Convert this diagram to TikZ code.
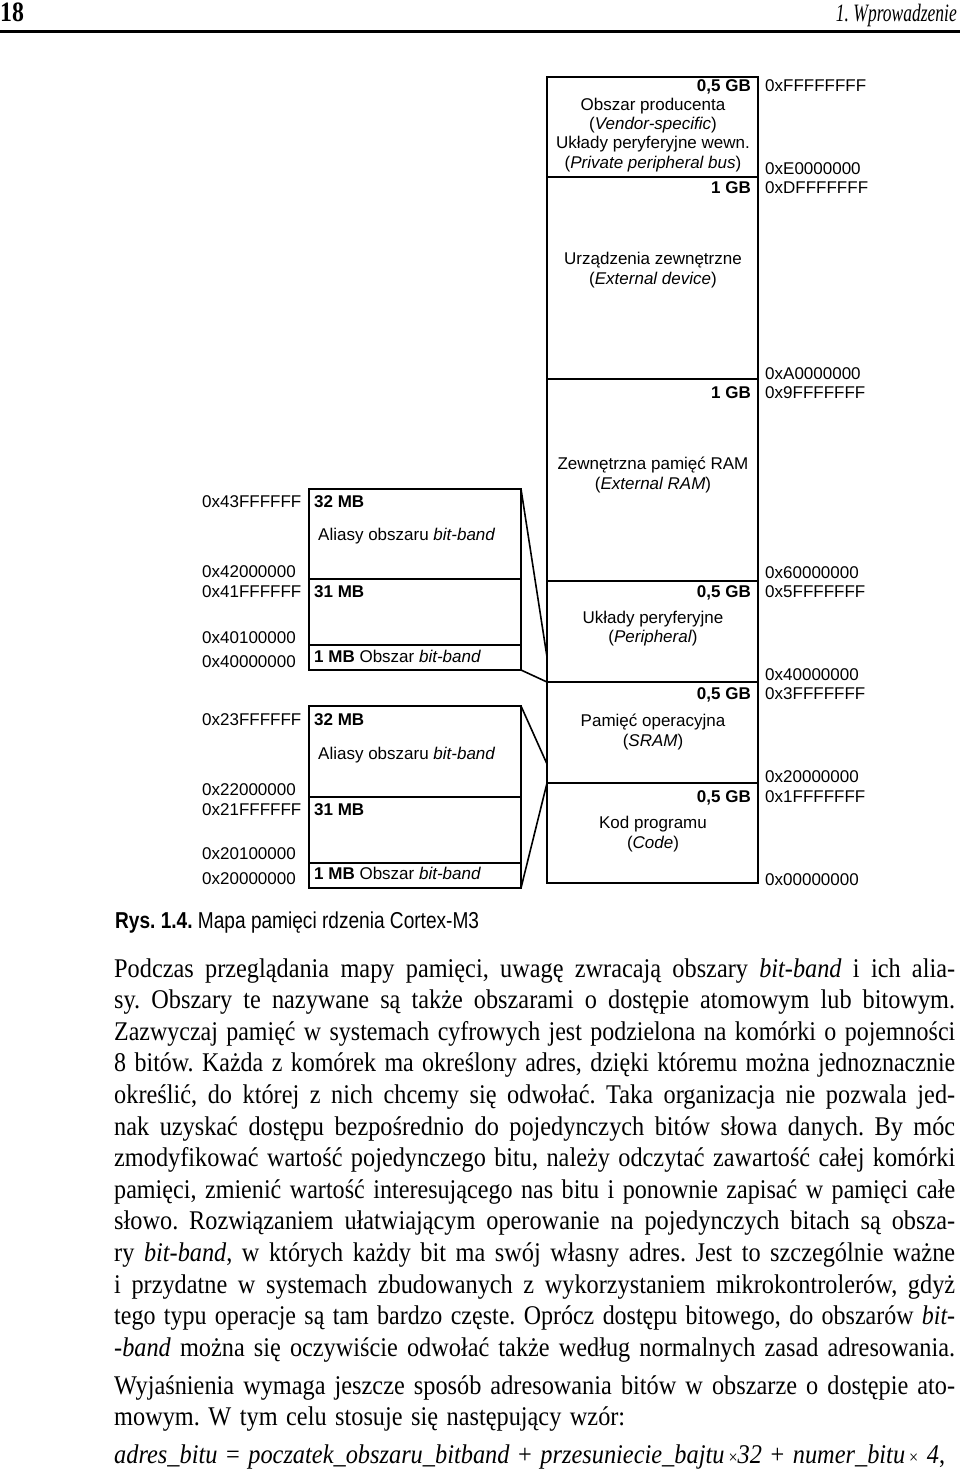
\documentclass[tikz,border=0pt]{standalone}
\usepackage{graphicx}
\usepackage{fontspec}
\setmainfont{Liberation Serif}
\newfontfamily\diafont{Liberation Sans}
\newfontfamily\bodyfont{Liberation Serif}
\newsavebox\linebox
\newcommand\jl[1]{\sbox\linebox{#1}\ifdim\wd\linebox>938pt\relax\resizebox{841pt}{\height}{\usebox\linebox}\else\scalebox{0.9}[1]{\makebox[934.4pt][s]{#1}}\fi}
\newcommand\nl[1]{\scalebox{0.9}[1]{#1}}
\newcommand\bodysetup{\bodyfont\fontsize{27}{30}\selectfont\frenchspacing\spaceskip=0.35em plus 0.6em minus 0.07em\relax}
\frenchspacing
\begin{document}
\begin{tikzpicture}[x=1pt,y=-1pt,
  box/.style={draw,line width=1.6pt},
  lbl/.style={inner sep=0pt,font=\diafont\fontsize{17}{19}\selectfont},
  addr/.style={lbl,anchor=base west},
  size/.style={lbl,anchor=base east,font=\diafont\fontsize{17}{19}\selectfont\bfseries},
  ctr/.style={lbl,anchor=base},
  body/.style={inner sep=0pt,anchor=base west,font=\bodysetup},
  conn/.style={line width=1.6pt,line join=round}]
\useasboundingbox (0,0) rectangle (960,1469);
% header
\node[inner sep=0pt,anchor=base west,font=\fontsize{28}{30}\selectfont\bfseries] (pg) at (0,22) {\scalebox{0.85}[1]{18}};
\node[inner sep=0pt,anchor=base east,font=\fontsize{25}{30}\selectfont\itshape] (ch) at (957,22) {\scalebox{0.7}[1]{1. Wprowadzenie}};
\fill (0,30) rectangle (960,33);
% main column
\draw[box] (547,77) rectangle (758,883);
\draw[box] (547,177) -- (758,177);
\draw[box] (547,379) -- (758,379);
\draw[box] (547,581) -- (758,581);
\draw[box] (547,682) -- (758,682);
\draw[box] (547,783) -- (758,783);
\coordinate (p40) at (547,682);
\coordinate (p40a) at (547,657);
\coordinate (p20) at (547,783);
\coordinate (p20a) at (547,764);
% right labels
\node[size] (s1) at (751,92) {0,5 GB};
\node[size] (s2) at (751,193) {1 GB};
\node[size] (s3) at (751,398) {1 GB};
\node[size] (s4) at (751,597) {0,5 GB};
\node[size] (s5) at (751,699) {0,5 GB};
\node[size] (s6) at (751,802) {0,5 GB};
\node[addr] (a1) at (765,92) {0xFFFFFFFF};
\node[addr] (a2) at (765,174) {0xE0000000};
\node[addr] (a3) at (765,193) {0xDFFFFFFF};
\node[addr] (a4) at (765,379) {0xA0000000};
\node[addr] (a5) at (765,398) {0x9FFFFFFF};
\node[addr] (a6) at (765,578) {0x60000000};
\node[addr] (a7) at (765,597) {0x5FFFFFFF};
\node[addr] (a8) at (765,680) {0x40000000};
\node[addr] (a9) at (765,699) {0x3FFFFFFF};
\node[addr] (a10) at (765,782) {0x20000000};
\node[addr] (a11) at (765,802) {0x1FFFFFFF};
\node[addr] (a12) at (765,885) {0x00000000};
% centered texts
\node[ctr] (t1) at (653,111) {Obszar producenta};
\node[ctr] (t2) at (653,130) {(\textit{Vendor-specific})};
\node[ctr] (t3) at (653,149) {Układy peryferyjne wewn.};
\node[ctr] (t4) at (653,168) {(\textit{Private peripheral bus})};
\node[ctr] (t5) at (653,264) {Urządzenia zewnętrzne};
\node[ctr] (t6) at (653,284) {(\textit{External device})};
\node[ctr] (t7) at (653,469) {Zewnętrzna pamięć RAM};
\node[ctr] (t8) at (653,489) {(\textit{External RAM})};
\node[ctr] (t9) at (653,623) {Układy peryferyjne};
\node[ctr] (t10) at (653,642) {(\textit{Peripheral})};
\node[ctr] (t11) at (653,726) {Pamięć operacyjna};
\node[ctr] (t12) at (653,746) {(\textit{SRAM})};
\node[ctr] (t13) at (653,828) {Kod programu};
\node[ctr] (t14) at (653,848) {(\textit{Code})};
% upper left box
\draw[box] (309,489) rectangle (521,670);
\draw[box] (309,579) -- (521,579);
\draw[box] (309,645) -- (521,645);
\coordinate (u1) at (521,489);
\coordinate (u2) at (521,670);
% lower left box
\draw[box] (309,706) rectangle (521,888);
\draw[box] (309,797) -- (521,797);
\draw[box] (309,863) -- (521,863);
\coordinate (d1) at (521,706);
\coordinate (d2) at (521,888);
% connectors
\draw[conn] (u1) -- (p40a);
\draw[conn] (u2) -- (p40);
\draw[conn] (d1) -- (p20a);
\draw[conn] (d2) -- (p20);
% left labels
\node[addr] (b1) at (202,507) {0x43FFFFFF};
\node[addr] (b2) at (202,577) {0x42000000};
\node[addr] (b3) at (202,597) {0x41FFFFFF};
\node[addr] (b4) at (202,643) {0x40100000};
\node[addr] (b5) at (202,667) {0x40000000};
\node[addr] (b6) at (202,725) {0x23FFFFFF};
\node[addr] (b7) at (202,795) {0x22000000};
\node[addr] (b8) at (202,815) {0x21FFFFFF};
\node[addr] (b9) at (202,859) {0x20100000};
\node[addr] (b10) at (202,884) {0x20000000};
\node[addr] (c1) at (314,507) {\textbf{32 MB}};
\node[addr] (c2) at (318,540) {Aliasy obszaru \textit{bit-band}};
\node[addr] (c3) at (314,597) {\textbf{31 MB}};
\node[addr] (c4) at (314,662) {\textbf{1 MB} Obszar \textit{bit-band}};
\node[addr] (c5) at (314,725) {\textbf{32 MB}};
\node[addr] (c6) at (318,759) {Aliasy obszaru \textit{bit-band}};
\node[addr] (c7) at (314,815) {\textbf{31 MB}};
\node[addr] (c8) at (314,879) {\textbf{1 MB} Obszar \textit{bit-band}};
% caption
\node[inner sep=0pt,anchor=base west,font=\diafont\fontsize{23}{26}\selectfont] (cap) at (115,928) {\scalebox{0.83}[1]{\textbf{Rys. 1.4.} Mapa pamięci rdzenia Cortex-M3}};
% body text
\node[body] (l1) at (114,977) {\jl{Podczas przeglądania mapy pamięci, uwagę zwracają obszary \textit{bit-band} i ich alia-}};
\node[body] (l2) at (114,1008.6) {\jl{sy. Obszary te nazywane są także obszarami o dostępie atomowym lub bitowym.}};
\node[body] (l3) at (114,1040.2) {\jl{Zazwyczaj pamięć w systemach cyfrowych jest podzielona na komórki o pojemności}};
\node[body] (l4) at (114,1071.8) {\jl{8 bitów. Każda z komórek ma określony adres, dzięki któremu można jednoznacznie}};
\node[body] (l5) at (114,1103.4) {\jl{określić, do której z nich chcemy się odwołać. Taka organizacja nie pozwala jed-}};
\node[body] (l6) at (114,1135) {\jl{nak uzyskać dostępu bezpośrednio do pojedynczych bitów słowa danych. By móc}};
\node[body] (l7) at (114,1166.6) {\jl{zmodyfikować wartość pojedynczego bitu, należy odczytać zawartość całej komórki}};
\node[body] (l8) at (114,1198.2) {\jl{pamięci, zmienić wartość interesującego nas bitu i ponownie zapisać w pamięci całe}};
\node[body] (l9) at (114,1229.8) {\jl{słowo. Rozwiązaniem ułatwiającym operowanie na pojedynczych bitach są obsza-}};
\node[body] (l10) at (114,1261.4) {\jl{ry \textit{bit-band}, w których każdy bit ma swój własny adres. Jest to szczególnie ważne}};
\node[body] (l11) at (114,1293) {\jl{i przydatne w systemach zbudowanych z wykorzystaniem mikrokontrolerów, gdyż}};
\node[body] (l12) at (114,1324.6) {\jl{tego typu operacje są tam bardzo częste. Oprócz dostępu bitowego, do obszarów \textit{bit-}}};
\node[body] (l13) at (114,1356.2) {\jl{\textit{-band} można się oczywiście odwołać także według normalnych zasad adresowania.}};
\node[body] (l14) at (114,1394) {\jl{Wyjaśnienia wymaga jeszcze sposób adresowania bitów w obszarze o dostępie ato-}};
\node[body] (l15) at (114,1425.6) {\nl{mowym. W tym celu stosuje się następujący wzór:}};
\node[body] (l16) at (114,1463) {\resizebox{831pt}{\height}{\textit{adres\_bitu} = \textit{poczatek\_obszaru\_bitband} + \textit{przesuniecie\_bajtu}\,{\fontsize{18}{20}\selectfont ×}\textit{32} + \textit{numer\_bitu}\,{\fontsize{18}{20}\selectfont ×} \textit{4},}};
\end{tikzpicture}
\end{document}
